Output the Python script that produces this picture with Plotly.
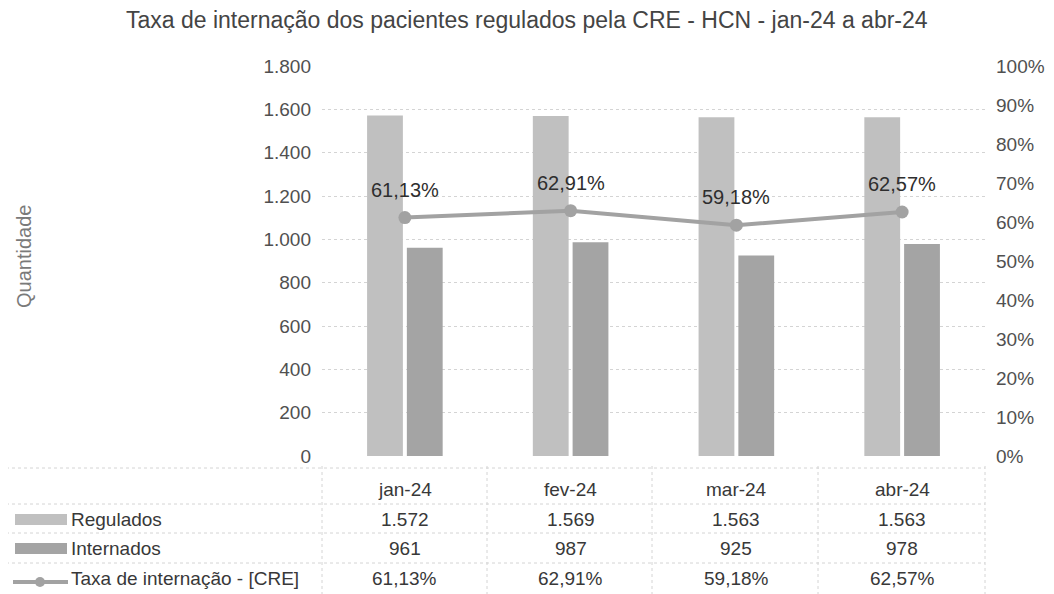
import plotly.graph_objects as go

months = ["jan-24", "fev-24", "mar-24", "abr-24"]
regulados = [1572, 1569, 1563, 1563]
internados = [961, 987, 925, 978]
taxa = [0.6113, 0.6291, 0.5918, 0.6257]
taxa_labels = ["61,13%", "62,91%", "59,18%", "62,57%"]
reg_labels = ["1.572", "1.569", "1.563", "1.563"]
int_labels = ["961", "987", "925", "978"]
left_ticks = [0, 200, 400, 600, 800, 1000, 1200, 1400, 1600, 1800]
right_ticks = [i / 10 for i in range(11)]

FONT = "Liberation Sans, Arial, sans-serif"
C_REG = "#c0c0c0"
C_INT = "#a4a4a4"
C_LINE = "#a2a2a2"
TXT = "#383838"
TICK = "#505050"

OFF = 8  # page body margin
W, H = 1054, 594
# target plot area in screenshot pixels
PL, PR, PT, PB = 322, 985, 66, 456
ML, MT = PL - OFF, PT - OFF
MR = W - (PR - OFF)
MB = H - (PB - OFF)
PW, PH = PR - PL, PB - PT

def px(x):
    return (x - PL) / PW

def py(y):
    return (PB - y) / PH

fig = go.Figure()
fig.add_trace(go.Bar(x=months, y=regulados, name="Regulados",
                     marker=dict(color=C_REG, line=dict(width=0))))
fig.add_trace(go.Bar(x=months, y=internados, name="Internados",
                     marker=dict(color=C_INT, line=dict(width=0))))
fig.add_trace(go.Scatter(x=months, y=taxa, yaxis="y2", name="Taxa de internação - [CRE]",
                         mode="lines+markers",
                         line=dict(color=C_LINE, width=4),
                         marker=dict(color=C_LINE, size=13)))

ann = []
for i, m in enumerate(months):
    ann.append(dict(x=m, y=taxa[i], xref="x", yref="y2", text=taxa_labels[i], showarrow=False,
                    yshift=28, yanchor="middle", xanchor="center",
                    font=dict(size=20, color="#2e2e2e", family=FONT)))

TS = 19
row_y = {"hdr": 490, "reg": 519, "int": 548, "tax": 578}
for i, m in enumerate(months):
    for key, arr in [("hdr", months), ("reg", reg_labels), ("int", int_labels), ("tax", taxa_labels)]:
        ann.append(dict(x=m, y=py(row_y[key]), xref="x", yref="paper", text=arr[i], showarrow=False,
                        xanchor="center", yanchor="middle",
                        font=dict(size=TS, color=TXT, family=FONT)))
for key, label in [("reg", "Regulados"), ("int", "Internados"), ("tax", "Taxa de internação - [CRE]")]:
    ann.append(dict(x=px(69), y=py(row_y[key]), xref="paper", yref="paper", text=label, showarrow=False,
                    xanchor="left", yanchor="middle", font=dict(size=TS, color=TXT, family=FONT)))

ann.append(dict(x=px(24), y=py(257), xref="paper", yref="paper", text="Quantidade", showarrow=False,
                textangle=-90, xanchor="center", yanchor="middle",
                font=dict(size=20, color="#7a7a7a", family=FONT)))

# chart title placed as a paper annotation
ann.append(dict(x=px(527), y=py(20), xref="paper", yref="paper",
                text="Taxa de internação dos pacientes regulados pela CRE - HCN - jan-24 a abr-24",
                showarrow=False, xanchor="center", yanchor="middle",
                font=dict(size=23, color="#444444", family=FONT)))

shapes = []
GRID = "#d4d4d4"
for yy in [468, 504, 533, 563]:
    shapes.append(dict(type="line", xref="paper", yref="paper", x0=px(0), x1=1, y0=py(yy), y1=py(yy),
                       line=dict(color=GRID, width=1, dash="dot")))
for xx in [322, 487, 652, 818, 985]:
    shapes.append(dict(type="line", xref="paper", yref="paper", x0=px(xx), x1=px(xx), y0=py(466), y1=py(600),
                       line=dict(color=GRID, width=1, dash="dot")))
# legend keys in the table
shapes.append(dict(type="rect", xref="paper", yref="paper", x0=px(15), x1=px(67), y0=py(525), y1=py(514),
                   fillcolor=C_REG, line=dict(width=0)))
shapes.append(dict(type="rect", xref="paper", yref="paper", x0=px(15), x1=px(67), y0=py(554), y1=py(543),
                   fillcolor=C_INT, line=dict(width=0)))
shapes.append(dict(type="line", xref="paper", yref="paper", x0=px(13), x1=px(68), y0=py(582), y1=py(582),
                   line=dict(color=C_LINE, width=4)))
shapes.append(dict(type="circle", xref="paper", yref="paper", x0=px(35), x1=px(45), y0=py(587), y1=py(577),
                   fillcolor=C_LINE, line=dict(width=0)))

fig.update_layout(
    width=W, height=H, margin=dict(l=ML, r=MR, t=MT, b=MB, autoexpand=False),
    paper_bgcolor="white", plot_bgcolor="white",
    separators=",.",
    font=dict(family=FONT, size=19, color=TICK),
    showlegend=False,
    barmode="group", bargap=0.52, bargroupgap=0.1,
    xaxis=dict(showticklabels=False, showgrid=False, showline=False, zeroline=False,
               range=[-0.5, 3.5]),
    yaxis=dict(range=[0, 1800], tickvals=left_ticks, tickformat=",d",
               showgrid=True, gridcolor=GRID, griddash="dot", zeroline=False,
               ticks="", ticklabelstandoff=10, automargin=False,
               tickfont=dict(size=TS, color=TICK)),
    yaxis2=dict(range=[0, 1], tickvals=right_ticks, tickformat=".0%", overlaying="y", side="right",
                showgrid=False, zeroline=False, ticks="", ticklabelstandoff=10, automargin=False,
                tickfont=dict(size=TS, color=TICK)),
    annotations=ann, shapes=shapes,
)

fig.write_html("out.html")
